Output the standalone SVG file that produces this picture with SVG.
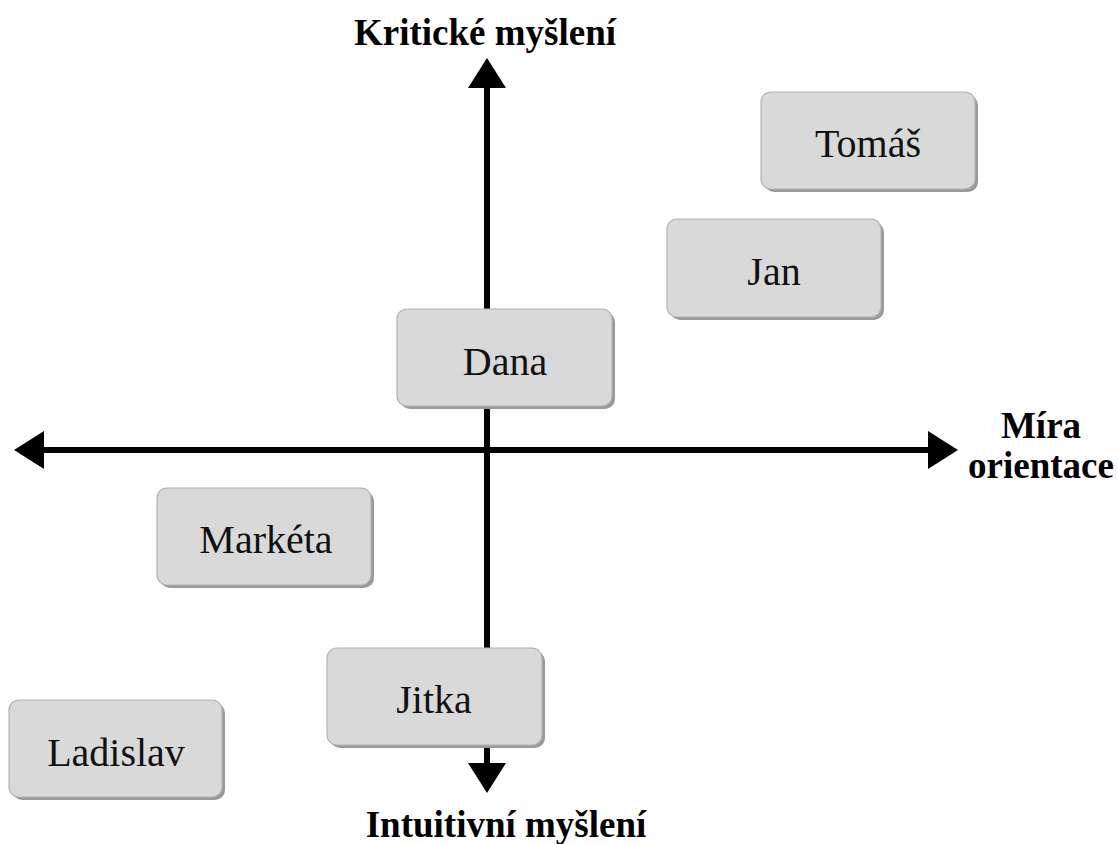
<svg xmlns="http://www.w3.org/2000/svg" width="1118" height="844" viewBox="0 0 1118 844">
<style>
.box{fill:#d9d9d9;stroke:#b4b4b4;stroke-width:1.2}
.shadow{fill:#9a9a9a}
.lbl{font-family:"Liberation Serif","Times New Roman",serif;font-size:40px;fill:#111;text-anchor:middle}
.axis-lbl{font-family:"Liberation Serif","Times New Roman",serif;font-size:37px;font-weight:bold;fill:#000;text-anchor:middle}
.axis{stroke:#000;stroke-width:6;fill:none}
</style>
<defs>
<marker id="ah" markerUnits="userSpaceOnUse" markerWidth="30" markerHeight="38" viewBox="0 0 30 38" refX="0" refY="19" orient="auto-start-reverse">
<path d="M0,0 L30,19 L0,38 Z" fill="#000"/>
</marker>
</defs>
<rect width="1118" height="844" fill="#fff"/>
<g id="connectors">
<line class="axis" x1="487" y1="763" x2="487" y2="88" marker-start="url(#ah)" marker-end="url(#ah)"/>
<line class="axis" x1="44" y1="450" x2="928" y2="450" marker-start="url(#ah)" marker-end="url(#ah)"/>
</g>
<g id="axis-labels">
<text class="axis-lbl" x="485" y="45">Kritické myšlení</text>
<text class="axis-lbl" x="506" y="837">Intuitivní myšlení</text>
<text class="axis-lbl" x="1041" y="438">Míra</text>
<text class="axis-lbl" x="1041" y="478">orientace</text>
</g>
<g id="tomas">
<rect class="shadow" x="764" y="95" width="214" height="97" rx="10"/>
<rect class="box" x="761" y="92" width="214" height="97" rx="10"/>
<text class="lbl" x="868" y="157">Tomáš</text>
</g>
<g id="jan">
<rect class="shadow" x="670" y="222" width="214" height="98" rx="10"/>
<rect class="box" x="667" y="219" width="214" height="98" rx="10"/>
<text class="lbl" x="774" y="285">Jan</text>
</g>
<g id="dana">
<rect class="shadow" x="400" y="312" width="215" height="97" rx="10"/>
<rect class="box" x="397" y="309" width="215" height="97" rx="10"/>
<text class="lbl" x="505" y="375">Dana</text>
</g>
<g id="marketa">
<rect class="shadow" x="160" y="491" width="214" height="97" rx="10"/>
<rect class="box" x="157" y="488" width="214" height="97" rx="10"/>
<text class="lbl" x="266" y="553">Markéta</text>
</g>
<g id="jitka">
<rect class="shadow" x="330" y="651" width="215" height="97" rx="10"/>
<rect class="box" x="327" y="648" width="215" height="97" rx="10"/>
<text class="lbl" x="434" y="713">Jitka</text>
</g>
<g id="ladislav">
<rect class="shadow" x="12" y="703" width="213" height="97" rx="10"/>
<rect class="box" x="9" y="700" width="213" height="97" rx="10"/>
<text class="lbl" x="116" y="766">Ladislav</text>
</g>
</svg>
